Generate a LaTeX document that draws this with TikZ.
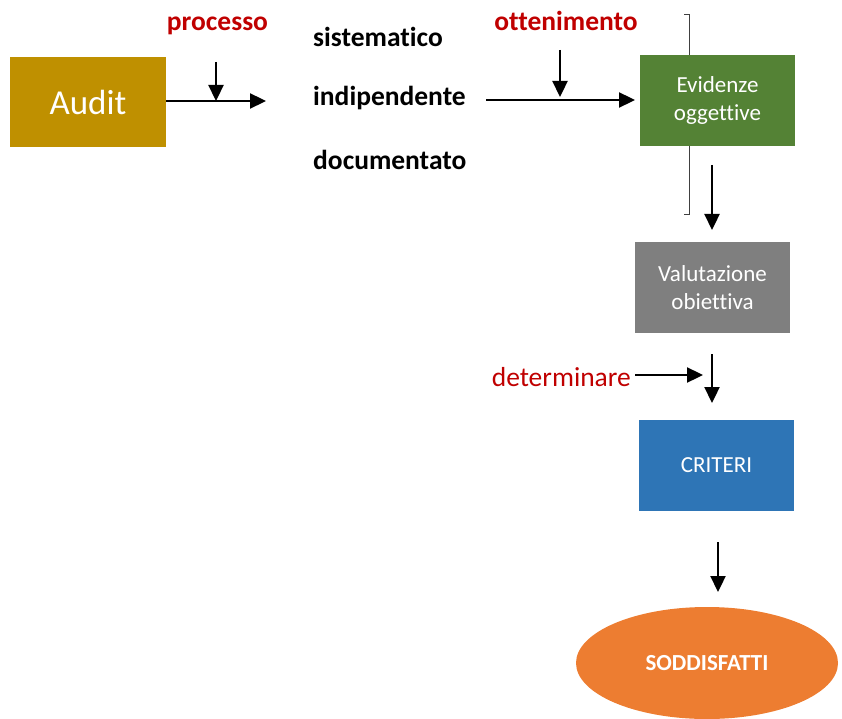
\documentclass[tikz,border=0pt]{standalone}
\usepackage{fontspec}
\setmainfont{Carlito}[Ligatures={NoCommon}]
\usetikzlibrary{arrows.meta,shapes.geometric}
\definecolor{auditcol}{HTML}{BF9000}
\definecolor{greencol}{HTML}{548235}
\definecolor{graycol}{HTML}{7F7F7F}
\definecolor{bluecol}{HTML}{2E75B6}
\definecolor{orangecol}{HTML}{ED7D31}
\definecolor{redtext}{HTML}{C00000}
\begin{document}
\begin{tikzpicture}[x=1pt,y=-1pt,
  box/.style={draw=none,inner sep=0pt,text=white,align=center,
    font=\fontsize{23}{28}\selectfont},
  blacklbl/.style={inner sep=0pt,anchor=base west,text=black,
    font=\fontsize{27.5}{32}\selectfont\bfseries},
  redbold/.style={inner sep=0pt,anchor=base,text=redtext,
    font=\fontsize{27.5}{32}\selectfont\bfseries},
  arr/.style={line width=2.3pt,-{Triangle[length=16pt,width=15pt]}},
  bracketline/.style={line width=1pt,draw=black!75}]
\useasboundingbox (0,0) rectangle (842,719);
% bracket behind green box
\coordinate (bt) at (684,15);
\coordinate (bb) at (684,215);
\draw[bracketline] (bt) -- (689,15) -- (689,215) -- (bb);
% boxes
\node[box,fill=auditcol,minimum width=156pt,minimum height=90pt,
  font=\fontsize{35}{40}\selectfont] (audit) at (88,102) {Audit};
\node[box,fill=greencol,minimum width=155pt,minimum height=91pt] (evid) at (717.5,100.5) {Evidenze\\oggettive};
\node[box,fill=graycol,minimum width=155pt,minimum height=91pt] (valut) at (712.5,287.5) {Valutazione\\obiettiva};
\node[box,fill=bluecol,minimum width=155pt,minimum height=91pt] (crit) at (716.5,465.5) {CRITERI};
\node[ellipse,fill=orangecol,minimum width=262pt,minimum height=112pt,inner sep=0pt,
  text=white,font=\fontsize{23}{28}\selectfont\bfseries] (sodd) at (707,663) {SODDISFATTI};
% labels
\node[redbold] (processo) at (217.5,31) {processo};
\node[redbold] (ottenim) at (566,31) {ottenimento};
\node[blacklbl] (sist) at (313,47) {sistematico};
\node[blacklbl] (indip) at (313,106) {indipendente};
\node[blacklbl] (docum) at (313,170) {documentato};
\node[inner sep=0pt,anchor=base east,text=redtext,font=\fontsize{27.5}{32}\selectfont] (determ) at (631,386) {determinare};
% coordinates
\coordinate (a1e) at (266,101);
\coordinate (p1s) at (216,62);
\coordinate (p1e) at (216,101);
\coordinate (a2s) at (486,100);
\coordinate (a2e) at (635,100);
\coordinate (o1s) at (560,50);
\coordinate (o1e) at (560,97);
\coordinate (e1s) at (712,165);
\coordinate (e1e) at (712,230);
\coordinate (v1s) at (712,354);
\coordinate (v1e) at (712,403);
\coordinate (d1s) at (635,375);
\coordinate (d1e) at (703,375);
\coordinate (c1s) at (718,542);
\coordinate (c1e) at (718,592);
% arrows
\draw[arr] (audit.east |- a1e) -- (a1e);
\draw[arr] (p1s) -- (p1e);
\draw[arr] (a2s) -- (a2e);
\draw[arr] (o1s) -- (o1e);
\draw[arr] (e1s) -- (e1e);
\draw[arr] (v1s) -- (v1e);
\draw[arr] (d1s) -- (d1e);
\draw[arr] (c1s) -- (c1e);
\end{tikzpicture}
\end{document}
